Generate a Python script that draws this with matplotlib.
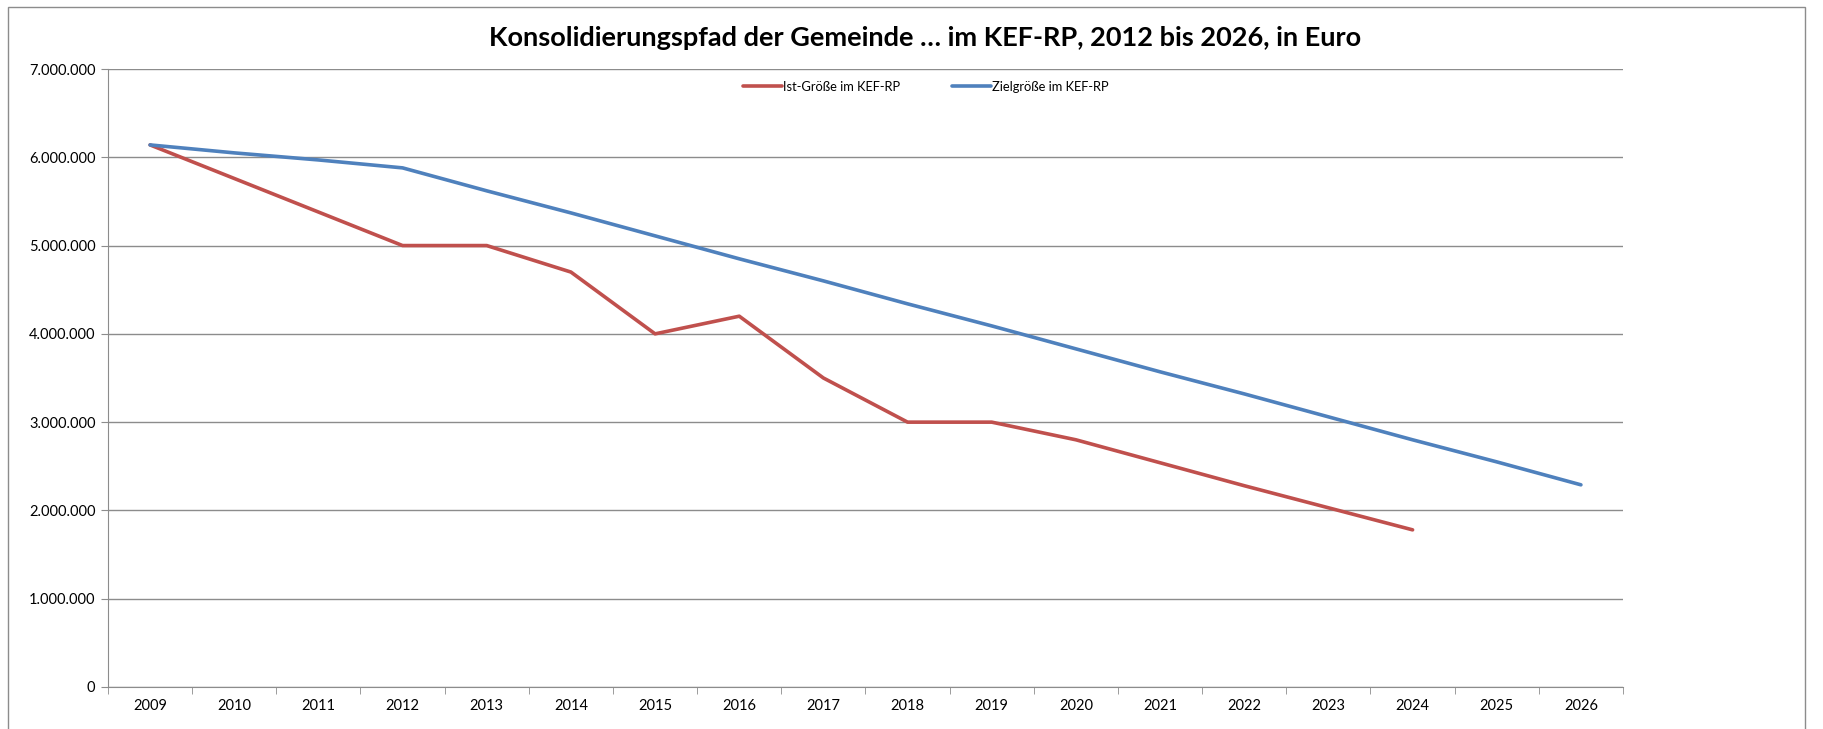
import matplotlib.pyplot as plt
import matplotlib.ticker as mticker
import numpy as np
from matplotlib.patches import Rectangle

plt.rcParams['font.family'] = ['Lato', 'DejaVu Sans']

years = [str(y) for y in range(2009, 2027)]
ist = [6140000, 5760000, 5380000, 5000000, 5000000, 4700000, 4000000, 4200000,
       3500000, 3000000, 3000000, 2800000, 2540000, 2280000, 2030000, 1780000]
ziel = [6140000, 6050000, 5970000, 5880000, 5620000, 5370000, 5110000, 4850000,
        4600000, 4340000, 4090000, 3830000, 3570000, 3320000, 3060000, 2800000,
        2550000, 2290000]

W, H = 1824, 729
fig = plt.figure(figsize=(W / 100, H / 100), dpi=100)
ax = fig.add_axes([108 / W, 1 - 687 / H, (1623 - 108) / W, (687 - 69) / H])

# chart-area frame
fig.patches.append(Rectangle((8 / W, -0.05), (1805 - 8) / W, 1.05 - 7 / H,
                             transform=fig.transFigure, fill=False,
                             edgecolor='#8c8c8c', lw=1))

x_ist = np.arange(len(ist))
x_ziel = np.arange(len(ziel))
ax.plot(x_ist, ist, color='#C0504D', lw=2.6, label='Ist-Größe im KEF-RP',
        solid_capstyle='round', solid_joinstyle='round')
ax.plot(x_ziel, ziel, color='#4F81BD', lw=2.6, label='Zielgröße im KEF-RP',
        solid_capstyle='round', solid_joinstyle='round')

ax.set_xlim(-0.5, len(years) - 0.5)
ax.set_ylim(0, 7000000)
ax.set_yticks(np.arange(0, 7000001, 1000000))
ax.yaxis.set_major_formatter(mticker.FuncFormatter(
    lambda v, p: f"{int(v):,}".replace(',', '.')))
ax.yaxis.grid(True, color='#8c8c8c', lw=1)
ax.set_axisbelow(True)

ax.set_xticks(np.arange(len(years)))
ax.set_xticklabels(years)
ax.set_xticks(np.arange(-0.5, len(years), 1), minor=True)
ax.tick_params(axis='x', which='major', length=0, pad=9, labelsize=10.5)
ax.tick_params(axis='x', which='minor', length=5, color='#8c8c8c', direction='out')
ax.tick_params(axis='y', length=5, color='#8c8c8c', labelsize=10.5, pad=4)

for s in ['top', 'right']:
    ax.spines[s].set_visible(False)
for s in ['left', 'bottom']:
    ax.spines[s].set_color('#8c8c8c')

ax.legend(loc='upper center', bbox_to_anchor=(0.54, 1.0), ncol=2, frameon=False,
          fontsize=9.3, handlelength=3, columnspacing=4, handletextpad=0.1)

fig.text(925 / W, 1 - 38 / H, 'Konsolidierungspfad der Gemeinde … im KEF-RP, 2012 bis 2026, in Euro',
         ha='center', va='center', fontsize=19.5, fontweight='bold')

fig.savefig('out.png', dpi=100)
